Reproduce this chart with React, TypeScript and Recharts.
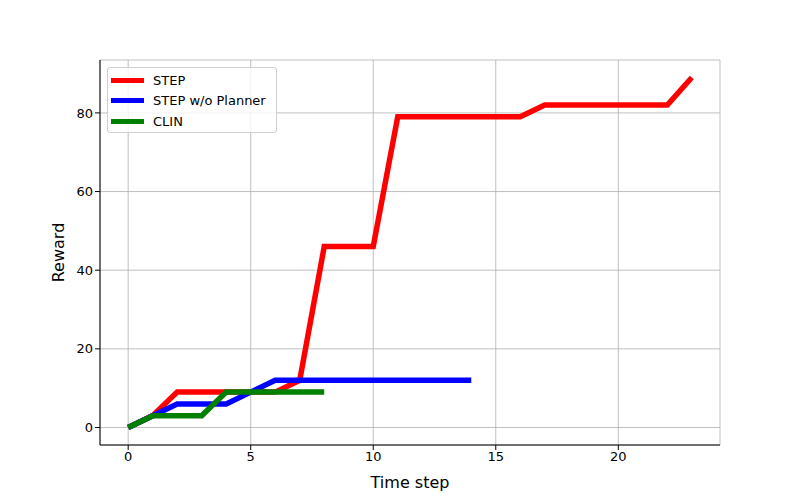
import { LineChart, Line, XAxis, YAxis, CartesianGrid, Legend } from "recharts";

const stepX = [0, 1, 2, 3, 4, 5, 6, 7, 8, 9, 10, 11, 12, 13, 14, 15, 16, 17, 18, 19, 20, 21, 22, 23];
const stepReward = [0, 3, 9, 9, 9, 9, 9, 12, 46, 46, 46, 79, 79, 79, 79, 79, 79, 82, 82, 82, 82, 82, 82, 89];
const noPlannerReward = [0, 3, 6, 6, 6, 9, 12, 12, 12, 12, 12, 12, 12, 12, 12];
const clinReward = [0, 3, 3, 3, 9, 9, 9, 9, 9];

const xTicks = [0, 5, 10, 15, 20];
const yTicks = [0, 20, 40, 60, 80];

const SERIES = [
  { name: "STEP", color: "#ff0000", values: stepReward },
  { name: "STEP w/o Planner", color: "#0000ff", values: noPlannerReward },
  { name: "CLIN", color: "#008000", values: clinReward },
];

const FONT = "DejaVu Sans, sans-serif";

const toPoints = (values: number[]) =>
  values.map((v, i) => ({ t: stepX[i], r: v }));

const renderLegend = () => (
  <div
    style={{
      width: 170,
      height: 66,
      border: "1px solid #d0d0d0",
      borderRadius: 3,
      background: "rgba(255,255,255,0.8)",
      fontFamily: FONT,
      fontSize: 13,
      color: "#000",
      boxSizing: "border-box",
      paddingTop: 2,
    }}
  >
    {SERIES.map((s) => (
      <div key={s.name} style={{ display: "flex", alignItems: "center", height: 20.5 }}>
        <span
          style={{
            display: "inline-block",
            marginLeft: 3,
            width: 33,
            height: 5,
            background: s.color,
          }}
        />
        <span style={{ marginLeft: 9 }}>{s.name}</span>
      </div>
    ))}
  </div>
);

export default function App() {
  const tickStyle = { fill: "#000", fontSize: 13, fontFamily: FONT };
  return (
    <div style={{ position: "absolute", left: 0, top: 0, background: "#fff" }}>
      <LineChart
        width={800}
        height={500}
        margin={{ top: 60, right: 80, bottom: 25, left: 40 }}
      >
        <CartesianGrid stroke="#b0b0b0" strokeWidth={0.8} />
        <XAxis
          type="number"
          dataKey="t"
          domain={[-1.15, 24.15]}
          ticks={xTicks}
          allowDataOverflow
          height={30}
          stroke="#000"
          tick={tickStyle}
          tickSize={5}
          label={{ value: "Time step", position: "insideBottom", offset: -13, fill: "#000", fontSize: 16, fontFamily: FONT }}
        />
        <XAxis xAxisId="top" orientation="top" type="number" domain={[-1.15, 24.15]} height={0} tick={false} tickLine={false} stroke="#000" />
        <YAxis
          type="number"
          domain={[-4.45, 93.45]}
          ticks={yTicks}
          allowDataOverflow
          width={60}
          stroke="#000"
          tick={tickStyle}
          tickSize={5}
          label={{ value: "Reward", angle: -90, position: "insideLeft", offset: 18, fill: "#000", fontSize: 16, fontFamily: FONT, style: { textAnchor: "middle" } }}
        />
        <YAxis yAxisId="right" orientation="right" type="number" domain={[-4.45, 93.45]} width={0} tick={false} tickLine={false} stroke="#000" />
        <Legend
          content={renderLegend}
          layout="horizontal"
          verticalAlign="middle"
          align="center"
          wrapperStyle={{ position: "absolute", left: 107, top: 67, width: 170 }}
        />
        {SERIES.map((s) => (
          <Line
            key={s.name}
            data={toPoints(s.values)}
            dataKey="r"
            name={s.name}
            type="linear"
            stroke={s.color}
            strokeWidth={5.5}
            dot={false}
            activeDot={false}
            isAnimationActive={false}
          />
        ))}
      </LineChart>
    </div>
  );
}
